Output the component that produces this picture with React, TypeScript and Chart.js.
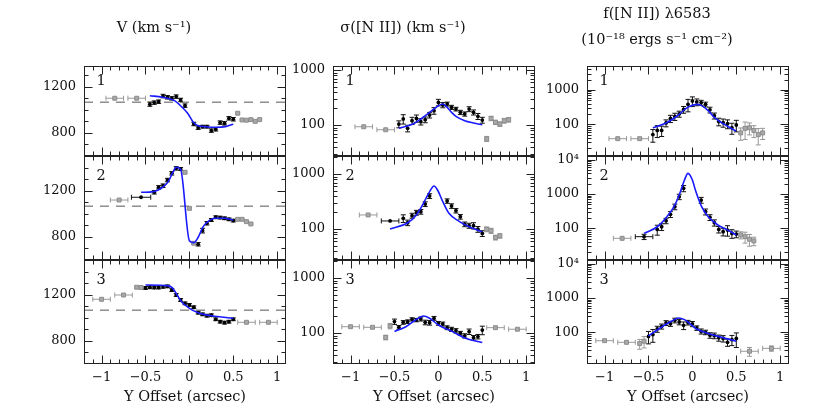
import React, { useEffect, useRef } from 'react';
import { Chart, registerables } from 'chart.js';
Chart.register(...registerables);

// ---------- axis settings ----------
const X_MIN = -1.2;
const X_MAX = 1.1;
const X_TICK_LABELS = [-1, -0.5, 0, 0.5, 1];
// y ranges for rows 1, 2, 3
const V_RANGES = [[600, 1379], [600, 1500], [600, 1500]];
const SIGMA_RANGES = [[27.3, 1185], [27.3, 2125], [27.3, 2125]];
const FLUX_RANGES = [[11.9, 5000], [11.9, 12850], [11.9, 12850]];
const V_TICK_LABELS = [800, 1200];
const SIGMA_TICK_LABELS = [100, 1000];
const FLUX_TICK_LABELS = [100, 1000, 10000];
const V_SYSTEMIC = 1066;

const COLUMN_TITLES = [
  ['V (km s⁻¹)'],
  ['σ([N II]) (km s⁻¹)'],
  ['f([N II]) λ6583', '(10⁻¹⁸ ergs s⁻¹ cm⁻²)'],
];
const PANEL_LABELS = ['1', '2', '3'];
const X_TITLE = 'Y Offset (arcsec)';

// ---------- data: [x, y, xerr, yerr] for points, [x, y] for model ----------
const V1_GRAY = [[-0.85, 1100, 0.1, 0], [-0.6, 1100, 0.1, 0], [0.55, 970, 0, 8], [0.6, 912, 0, 6], [0.65, 910, 0, 6], [0.7, 915, 0, 8], [0.75, 900, 0, 6], [0.8, 915, 0, 6]];
const V1_BLACK = [[-0.45, 1048, 0, 18], [-0.4, 1062, 0, 15], [-0.35, 1070, 0, 15], [-0.3, 1119, 0, 15], [-0.25, 1108, 0, 15], [-0.2, 1099, 0, 15], [-0.15, 1114, 0, 15], [-0.1, 1085, 0, 15], [-0.05, 1036, 0, 15], [0.05, 877, 0, 15], [0.1, 845, 0, 15], [0.15, 854, 0, 12], [0.2, 854, 0, 12], [0.25, 820, 0, 15], [0.3, 831, 0, 15], [0.35, 889, 0, 15], [0.4, 883, 0, 15], [0.45, 926, 0, 15], [0.5, 918, 0, 15]];
const V1_MODEL = [[-0.45, 1122], [-0.31, 1108], [-0.17, 1079], [-0.09, 1027], [-0.02, 970], [0.04, 897], [0.1, 862], [0.18, 854], [0.3, 849], [0.41, 854], [0.5, 875]];

const V2_GRAY = [[-0.8, 1119, 0.1, 0], [-0.05, 1359, 0, 10], [0.0, 1047, 0, 10], [0.05, 745, 0, 10], [0.55, 952, 0, 6], [0.6, 952, 0, 6], [0.65, 932, 0, 6], [0.7, 912, 0, 6]];
const V2_BLACK = [[-0.55, 1143, 0.11, 0], [-0.4, 1186, 0, 15], [-0.35, 1229, 0, 15], [-0.3, 1243, 0, 15], [-0.25, 1292, 0, 15], [-0.2, 1350, 0, 15], [-0.15, 1393, 0, 15], [-0.1, 1388, 0, 12], [0.1, 736, 0, 15], [0.15, 854, 0, 20], [0.2, 918, 0, 15], [0.25, 946, 0, 12], [0.3, 970, 0, 12], [0.35, 967, 0, 12], [0.4, 961, 0, 12], [0.45, 952, 0, 12], [0.5, 941, 0, 12]];
const V2_MODEL = [[-0.55, 1186], [-0.41, 1192], [-0.32, 1221], [-0.24, 1278], [-0.19, 1356], [-0.15, 1402], [-0.1, 1385], [0.0, 767], [0.05, 750], [0.1, 797], [0.157, 889], [0.21, 932], [0.29, 961], [0.4, 961], [0.5, 946]];

const V3_GRAY = [[-1.0, 1160, 0.1, 0], [-0.75, 1197, 0.1, 0], [-0.6, 1264, 0, 8], [-0.55, 1262, 0, 8], [0.65, 961, 0.1, 0], [0.9, 961, 0.1, 0]];
const V3_BLACK = [[-0.5, 1258, 0, 12], [-0.45, 1264, 0, 12], [-0.4, 1262, 0, 12], [-0.35, 1262, 0, 12], [-0.3, 1268, 0, 12], [-0.25, 1272, 0, 12], [-0.2, 1240, 0, 12], [-0.15, 1197, 0, 12], [-0.1, 1154, 0, 12], [-0.05, 1125, 0, 12], [0, 1111, 0, 12], [0.05, 1091, 0, 12], [0.1, 1044, 0, 12], [0.15, 1030, 0, 12], [0.2, 1018, 0, 12], [0.25, 1022, 0, 12], [0.3, 987, 0, 12], [0.35, 966, 0, 12], [0.4, 958, 0, 12], [0.45, 966, 0, 12], [0.5, 987, 0, 12]];
const V3_MODEL = [[-0.5, 1284], [-0.25, 1278], [-0.19, 1257], [-0.14, 1197], [-0.09, 1139], [0, 1082], [0.1, 1044], [0.25, 1018], [0.5, 996]];

const S1_GRAY = [[-0.85, 93, 0.1, 0], [-0.6, 82, 0.1, 0], [0.55, 56, 0, 6], [0.6, 132, 0, 12], [0.65, 112, 0, 10], [0.7, 104, 0, 10], [0.75, 120, 0, 12], [0.8, 125, 0, 12]];
const S1_BLACK = [[-0.45, 104, 0, 15], [-0.4, 129, 0, 25], [-0.35, 87, 0, 12], [-0.3, 120, 0, 18], [-0.25, 132, 0, 20], [-0.2, 115, 0, 15], [-0.15, 125, 0, 15], [-0.1, 152, 0, 18], [-0.05, 182, 0, 25], [0.0, 258, 0, 35], [0.05, 231, 0, 25], [0.1, 241, 0, 20], [0.15, 210, 0, 18], [0.2, 195, 0, 15], [0.25, 170, 0, 15], [0.3, 159, 0, 14], [0.35, 195, 0, 20], [0.4, 170, 0, 18], [0.45, 144, 0, 18], [0.5, 123, 0, 15]];
const S1_MODEL = [[-0.45, 87], [-0.29, 104], [-0.2, 129], [-0.1, 170], [0, 224], [0.05, 241], [0.1, 210], [0.15, 170], [0.2, 144], [0.3, 120], [0.4, 109], [0.5, 101]];

const S2_GRAY = [[-0.8, 180, 0.1, 0], [0.55, 99, 0, 10], [0.6, 93, 0, 10], [0.65, 70, 0, 7], [0.7, 75, 0, 7]];
const S2_BLACK = [[-0.55, 140, 0.1, 0], [-0.4, 156, 0, 25], [-0.35, 130, 0, 15], [-0.3, 175, 0, 18], [-0.25, 198, 0, 20], [-0.2, 206, 0, 20], [-0.15, 284, 0, 28], [-0.1, 398, 0, 40], [0.1, 323, 0, 30], [0.15, 262, 0, 25], [0.2, 215, 0, 20], [0.25, 167, 0, 16], [0.3, 122, 0, 12], [0.35, 115, 0, 12], [0.4, 115, 0, 15], [0.45, 99, 0, 12], [0.5, 83, 0, 10]];
const S2_MODEL = [[-0.55, 100], [-0.35, 130], [-0.25, 180], [-0.15, 337], [-0.1, 477], [-0.05, 606], [-0.01, 512], [0.05, 314], [0.12, 193], [0.24, 136], [0.35, 110], [0.5, 89]];

const S3_GRAY = [[-1.0, 130, 0.1, 0], [-0.75, 127, 0.1, 0], [-0.6, 83, 0, 8], [-0.55, 134, 0, 15], [0.65, 125, 0.1, 0], [0.9, 117, 0.1, 0]];
const S3_BLACK = [[-0.5, 161, 0, 18], [-0.45, 127, 0, 10], [-0.4, 156, 0, 12], [-0.35, 161, 0, 12], [-0.3, 177, 0, 12], [-0.25, 172, 0, 12], [-0.2, 180, 0, 15], [-0.15, 156, 0, 15], [-0.1, 154, 0, 15], [-0.05, 185, 0, 15], [0, 150, 0, 12], [0.05, 146, 0, 12], [0.1, 125, 0, 10], [0.15, 117, 0, 10], [0.2, 110, 0, 10], [0.25, 99, 0, 8], [0.3, 89, 0, 8], [0.35, 106, 0, 12], [0.4, 82, 0, 8], [0.45, 86, 0, 8], [0.5, 113, 0, 20]];
const S3_MODEL = [[-0.5, 106], [-0.37, 130], [-0.26, 172], [-0.17, 204], [-0.1, 185], [0, 140], [0.16, 106], [0.31, 80], [0.5, 67]];

const F1_GRAY = [[-0.85, 38, 0.1, 0], [-0.6, 38, 0.1, 0], [0.55, 56, 0, 22], [0.6, 76, 0, 40], [0.65, 79, 0, 30], [0.7, 66, 0, 25], [0.75, 50, 0, 25], [0.8, 56, 0, 20]];
const F1_BLACK = [[-0.45, 50, 0, 20], [-0.4, 66, 0, 25], [-0.35, 66, 0, 22], [-0.3, 109, 0, 25], [-0.25, 147, 0, 35], [-0.2, 169, 0, 40], [-0.15, 200, 0, 40], [-0.1, 269, 0, 60], [-0.05, 380, 0, 150], [0.0, 477, 0, 150], [0.05, 446, 0, 100], [0.1, 427, 0, 70], [0.15, 380, 0, 60], [0.2, 263, 0, 50], [0.25, 177, 0, 35], [0.3, 120, 0, 30], [0.35, 112, 0, 30], [0.4, 104, 0, 30], [0.45, 79, 0, 28], [0.5, 95, 0, 35]];
const F1_MODEL = [[-0.45, 79], [-0.29, 112], [-0.17, 177], [-0.05, 315], [0.05, 380], [0.1, 354], [0.18, 250], [0.25, 158], [0.35, 104], [0.5, 63]];

const F2_GRAY = [[-0.8, 51, 0.1, 0], [0.55, 64, 0, 15], [0.6, 57, 0, 20], [0.65, 48, 0, 18], [0.7, 43, 0, 12]];
const F2_BLACK = [[-0.55, 57, 0.1, 10], [-0.4, 93, 0, 30], [-0.35, 111, 0, 25], [-0.3, 166, 0, 30], [-0.25, 256, 0, 50], [-0.2, 427, 0, 80], [-0.15, 835, 0, 150], [-0.1, 1466, 0, 300], [0.1, 668, 0, 130], [0.15, 305, 0, 60], [0.2, 209, 0, 40], [0.25, 146, 0, 30], [0.3, 93, 0, 20], [0.35, 80, 0, 20], [0.4, 89, 0, 30], [0.45, 71, 0, 20], [0.5, 68, 0, 15]];
const F2_MODEL = [[-0.55, 71], [-0.4, 111], [-0.29, 218], [-0.2, 476], [-0.13, 1300], [-0.09, 2570], [-0.05, 4000], [0.0, 2570], [0.034, 1310], [0.105, 427], [0.18, 218], [0.29, 125], [0.4, 89], [0.5, 64]];

const F3_GRAY = [[-1.0, 57, 0.1, 0], [-0.75, 51, 0.1, 0], [-0.6, 47, 0, 15], [-0.55, 55, 0, 20], [0.65, 28, 0.1, 8], [0.9, 34, 0.1, 6]];
const F3_BLACK = [[-0.5, 76, 0, 30], [-0.45, 86, 0, 35], [-0.4, 125, 0, 25], [-0.35, 149, 0, 25], [-0.3, 188, 0, 30], [-0.25, 179, 0, 30], [-0.2, 223, 0, 35], [-0.15, 200, 0, 35], [-0.1, 160, 0, 40], [-0.05, 193, 0, 30], [0, 176, 0, 30], [0.05, 134, 0, 20], [0.1, 107, 0, 18], [0.15, 100, 0, 15], [0.2, 82, 0, 15], [0.25, 80, 0, 15], [0.3, 69, 0, 14], [0.35, 66, 0, 14], [0.4, 51, 0, 12], [0.45, 61, 0, 20], [0.5, 66, 0, 30]];
const F3_MODEL = [[-0.5, 78], [-0.35, 143], [-0.24, 209], [-0.16, 262], [-0.09, 234], [0.03, 134], [0.18, 92], [0.33, 72], [0.5, 55]];

// ---------- layout / style ----------
const FONT = '"DejaVu Serif", "Liberation Serif", serif';
const TEXT_COLOR = '#111';
const AXIS_COLOR = '#222';
const BLUE = '#1a1aff';
const GRAY_FILL = '#a8a8a8';
const GRAY_LINE = '#8c8c8c';
const COL_LEFT = [84, 333, 587];
const ROW_TOP = [66, 156, 260];
const ROW_H = [90, 104, 104];
const PANEL_W = 202;
const SIDE = 62;

const PANELS = [
  { row: 0, col: 0, gray: V1_GRAY, black: V1_BLACK, model: V1_MODEL },
  { row: 1, col: 0, gray: V2_GRAY, black: V2_BLACK, model: V2_MODEL },
  { row: 2, col: 0, gray: V3_GRAY, black: V3_BLACK, model: V3_MODEL },
  { row: 0, col: 1, gray: S1_GRAY, black: S1_BLACK, model: S1_MODEL },
  { row: 1, col: 1, gray: S2_GRAY, black: S2_BLACK, model: S2_MODEL },
  { row: 2, col: 1, gray: S3_GRAY, black: S3_BLACK, model: S3_MODEL },
  { row: 0, col: 2, gray: F1_GRAY, black: F1_BLACK, model: F1_MODEL },
  { row: 1, col: 2, gray: F2_GRAY, black: F2_BLACK, model: F2_MODEL },
  { row: 2, col: 2, gray: F3_GRAY, black: F3_BLACK, model: F3_MODEL },
];

function yAxisInfo(col: number, row: number) {
  if (col === 0) {
    const range = V_RANGES[row];
    const minor: number[] = [];
    for (let v = 700; v < range[1]; v += 100) if (!V_TICK_LABELS.includes(v)) minor.push(v);
    return { type: 'linear', range, labels: V_TICK_LABELS, major: V_TICK_LABELS, minor };
  }
  const range = col === 1 ? SIGMA_RANGES[row] : FLUX_RANGES[row];
  const allLabels = col === 1 ? SIGMA_TICK_LABELS : FLUX_TICK_LABELS;
  const labels = allLabels.filter((v) => v >= range[0] && v <= range[1]);
  const major: number[] = [];
  const minor: number[] = [];
  for (let e = 1; e <= 4; e++) {
    const d = Math.pow(10, e);
    if (d > range[0] && d < range[1]) major.push(d);
    for (let m = 2; m <= 9; m++) {
      const v = m * d;
      if (v > range[0] && v < range[1]) minor.push(v);
    }
  }
  return { type: 'logarithmic', range, labels, major, minor };
}

const X_MAJOR = X_TICK_LABELS;
const X_MINOR: number[] = [];
for (let k = -11; k <= 10; k++) {
  const v = k / 10;
  if (!X_MAJOR.some((m) => Math.abs(m - v) < 1e-9)) X_MINOR.push(v);
}

const fmtX = (v: number) => {
  if (v === 0) return '0';
  const s = String(Math.abs(v));
  return v < 0 ? '−' + s : s;
};

function makeErrorPlugin() {
  return {
    id: 'errorBars',
    beforeDatasetsDraw(chart: any) {
      const { ctx, chartArea: a, scales } = chart;
      const xs = scales.x;
      const ys = scales.y;
      ctx.save();
      ctx.beginPath();
      ctx.rect(a.left, a.top, a.right - a.left, a.bottom - a.top);
      ctx.clip();
      const cap = 2.5;
      chart.data.datasets.forEach((ds: any) => {
        if (!ds.errs) return;
        ctx.strokeStyle = ds.errColor;
        ctx.lineWidth = 1;
        ds.data.forEach((p: any, i: number) => {
          const [xe, ye] = ds.errs[i];
          const px = xs.getPixelForValue(p.x);
          const py = ys.getPixelForValue(p.y);
          ctx.beginPath();
          if (xe > 0) {
            const l = xs.getPixelForValue(p.x - xe);
            const r = xs.getPixelForValue(p.x + xe);
            ctx.moveTo(l, py); ctx.lineTo(r, py);
            ctx.moveTo(l, py - cap); ctx.lineTo(l, py + cap);
            ctx.moveTo(r, py - cap); ctx.lineTo(r, py + cap);
          }
          if (ye > 0) {
            const lo = ys.getPixelForValue(Math.max(p.y - ye, 1e-3));
            const hi = ys.getPixelForValue(p.y + ye);
            ctx.moveTo(px, lo); ctx.lineTo(px, hi);
            ctx.moveTo(px - cap, lo); ctx.lineTo(px + cap, lo);
            ctx.moveTo(px - cap, hi); ctx.lineTo(px + cap, hi);
          }
          ctx.stroke();
        });
      });
      ctx.restore();
    },
  };
}

function makeFramePlugin(row: number, yi: any) {
  return {
    id: 'frame',
    afterDraw(chart: any) {
      const { ctx, chartArea: a, scales } = chart;
      const xs = scales.x;
      const ys = scales.y;
      ctx.save();
      ctx.strokeStyle = AXIS_COLOR;
      ctx.lineWidth = 1;
      const l = Math.round(a.left) + 0.5;
      const r = Math.round(a.right) - 0.5;
      const t = Math.round(a.top) + 0.5;
      const b = Math.round(a.bottom) - 0.5;
      ctx.strokeRect(l, t, r - l, b - t);
      ctx.beginPath();
      const xt = (vals: number[], len: number) => vals.forEach((v) => {
        const px = Math.round(xs.getPixelForValue(v)) + 0.5;
        ctx.moveTo(px, b); ctx.lineTo(px, b - len);
        ctx.moveTo(px, t); ctx.lineTo(px, t + len);
      });
      const yt = (vals: number[], len: number) => vals.forEach((v) => {
        const py = Math.round(ys.getPixelForValue(v)) + 0.5;
        ctx.moveTo(l, py); ctx.lineTo(l + len, py);
        ctx.moveTo(r, py); ctx.lineTo(r - len, py);
      });
      xt(X_MAJOR, 8);
      xt(X_MINOR, 4);
      yt(yi.major, 8);
      yt(yi.minor, 4);
      ctx.stroke();
      ctx.fillStyle = TEXT_COLOR;
      ctx.font = `14.5px ${FONT}`;
      ctx.textAlign = 'center';
      ctx.textBaseline = 'middle';
      ctx.fillText(PANEL_LABELS[row], a.left + 17, a.top + (row === 0 ? 15 : 20));
      ctx.restore();
    },
  };
}

function buildConfig(spec: any, xH: number) {
  const { row, col } = spec;
  const isTop = row === 0;
  const isBottom = row === 2;
  const yi = yAxisInfo(col, row);
  const pts = (arr: number[][]) => arr.map((p) => ({ x: p[0], y: p[1] }));
  const errs = (arr: number[][]) => arr.map((p) => [p[2], p[3]]);
  const datasets: any[] = [
    {
      type: 'line', data: pts(spec.model), borderColor: BLUE, borderWidth: 1.6,
      pointRadius: 0, showLine: true, fill: false, cubicInterpolationMode: 'monotone',
    },
    {
      type: 'scatter', data: pts(spec.black), errs: errs(spec.black), errColor: '#111',
      pointStyle: 'circle', pointRadius: 1.9, backgroundColor: '#000', borderWidth: 0,
    },
    {
      type: 'scatter', data: pts(spec.gray), errs: errs(spec.gray), errColor: '#999',
      pointStyle: 'rect', pointRadius: 2.8, backgroundColor: GRAY_FILL, borderColor: GRAY_LINE, borderWidth: 1,
    },
  ];
  if (col === 0) {
    datasets.push({
      type: 'line', data: [{ x: X_MIN, y: V_SYSTEMIC }, { x: X_MAX, y: V_SYSTEMIC }],
      borderColor: '#555', borderWidth: 1, borderDash: [9, 7], pointRadius: 0, showLine: true, fill: false,
    });
  }
  const titleLines = COLUMN_TITLES[col];
  const two = titleLines.length > 1;
  const titleFont = { family: FONT, size: 14.5, weight: 'normal', lineHeight: two ? 1.79 : 1.2 };
  const titlePad = two ? { top: 1, bottom: 13 } : { top: 19.3, bottom: 29.3 };
  return {
    type: 'scatter',
    data: { datasets },
    plugins: [makeErrorPlugin(), makeFramePlugin(row, yi)],
    options: {
      animation: false,
      responsive: false,
      events: [],
      layout: { padding: { top: isTop ? 0 : 10, right: SIDE, left: 0, bottom: 0 } },
      plugins: {
        legend: { display: false },
        tooltip: { enabled: false },
        title: {
          display: isTop, text: two ? titleLines : titleLines[0], font: titleFont,
          color: TEXT_COLOR, padding: titlePad, fullSize: true,
        },
      },
      scales: {
        x: {
          type: 'linear', min: X_MIN, max: X_MAX,
          grid: { display: false, drawTicks: false }, border: { display: false },
          ticks: {
            display: isBottom, autoSkip: false, maxRotation: 0, minRotation: 0, padding: 6,
            font: { family: FONT, size: 13 }, color: TEXT_COLOR, callback: (v: any) => fmtX(Number(v)),
          },
          afterBuildTicks: (s: any) => { s.ticks = X_TICK_LABELS.map((v) => ({ value: v })); },
          afterFit: (s: any) => { s.height = xH; s.paddingLeft = 0; s.paddingRight = 0; },
          title: {
            display: isBottom, text: X_TITLE, color: TEXT_COLOR,
            font: { family: FONT, size: 14.5 }, padding: { top: 0, bottom: 2.3 },
          },
        },
        y: {
          type: yi.type, min: yi.range[0], max: yi.range[1],
          grid: { display: false, drawTicks: false }, border: { display: false },
          ticks: {
            autoSkip: false, padding: 8, font: { family: FONT, size: 13 }, color: TEXT_COLOR,
            callback: (v: any) => (Number(v) === 10000 ? '10⁴' : String(v)),
          },
          afterBuildTicks: (s: any) => { s.ticks = yi.labels.map((v: number) => ({ value: v })); },
          afterFit: (s: any) => { s.width = SIDE; s.paddingTop = 0; s.paddingBottom = 0; },
        },
      },
    },
  };
}

function Panel({ spec }: { spec: any }) {
  const ref = useRef<HTMLCanvasElement>(null);
  const { row, col } = spec;
  const isTop = row === 0;
  const isBottom = row === 2;
  const xH = isBottom ? 44 : 10;
  const left = COL_LEFT[col] - SIDE;
  const top = isTop ? 0 : ROW_TOP[row] - 10;
  const W = PANEL_W + 2 * SIDE;
  const H = (isTop ? ROW_TOP[0] : 10) + ROW_H[row] + xH;
  useEffect(() => {
    const chart = new Chart(ref.current as HTMLCanvasElement, buildConfig(spec, xH) as any);
    return () => chart.destroy();
  }, []);
  return (
    <canvas
      ref={ref}
      width={W}
      height={H}
      style={{ position: 'absolute', left, top, width: W, height: H }}
    />
  );
}

export default function App() {
  return (
    <div style={{ position: 'absolute', left: 0, top: 0, width: 830, height: 417, background: '#fff', overflow: 'hidden' }}>
      {PANELS.map((p, i) => (
        <Panel key={i} spec={p} />
      ))}
    </div>
  );
}
